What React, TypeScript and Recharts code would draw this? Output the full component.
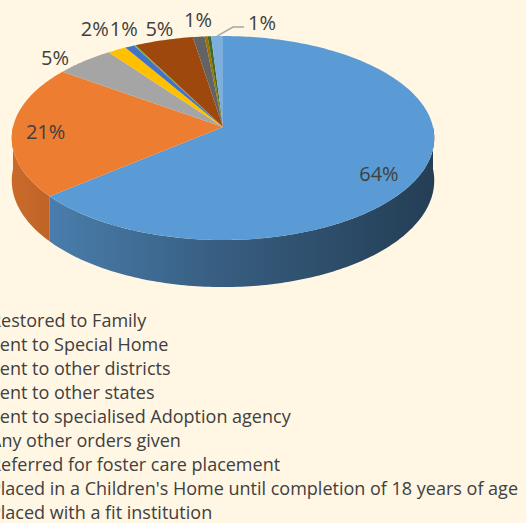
import React from 'react'
import { PieChart, Pie, Cell, Legend } from 'recharts'

// categories in legend order (the last four are cut off below the frame)
const categories = [
  'Restored to Family',
  'Sent to Special Home',
  'Sent to other districts',
  'Sent to other states',
  'Sent to specialised Adoption agency',
  'Any other orders given',
  'Referred for foster care placement',
  "Placed in a Children's Home until completion of 18 years of age",
  'Placed with a fit institution',
  'Sent to Observation Home',
  'Transferred to another CWC',
  'Repatriated to native country',
  'Others',
]

// share of cases (%)
const shares = [64, 21, 5, 1.6, 0.8, 0.15, 0, 5, 1, 0.25, 0, 0.3, 1]

const colors = [
  '#5B9BD5', '#ED7D31', '#A5A5A5', '#FFC000', '#4472C4', '#70AD47',
  '#255E91', '#9E480E', '#636363', '#997300', '#264478', '#43682B', '#7CAFDD',
]

const data = categories.map((name, i) => ({ name, value: shares[i] }))

// layout / look
const W = 526
const H = 523
const CX = 223
const CY = 127
const R = 210
const TILT = 0.48 // vertical squash of the top face
const PERSP = 0.108 // perspective: far half smaller, near half larger
const DEPTH = 42
const BG = '#FFF6E3'
const TEXT = '#404040'
const FONT = '"Open Sans", Lato, sans-serif'
const RAD = Math.PI / 180

// small hand offsets for the labels (Excel best-fit placement)
const labelNudge: Record<number, { dx: number; dy: number }> = {
  0: { dx: -2, dy: 1 },
  1: { dx: -9, dy: -8 },
  2: { dx: -15, dy: 10 },
  3: { dx: -11, dy: -5 },
  4: { dx: 4, dy: -1 },
  7: { dx: 2, dy: 7 },
  8: { dx: 2, dy: 3 },
}

const shade = (hex: string, k: number) => {
  const n = parseInt(hex.slice(1), 16)
  const c = [(n >> 16) & 255, (n >> 8) & 255, n & 255].map((v) => Math.round(v * k))
  return `rgb(${c[0]},${c[1]},${c[2]})`
}

// project a point of the (flat) pie onto the tilted, perspective view
const proj = (cx: number, cy: number, r: number, deg: number, f = 1, drop = 0) => {
  const u = f * Math.cos(deg * RAD)
  const v = f * Math.sin(deg * RAD)
  const s = 1 / (1 + PERSP * v)
  return { x: cx + r * u * s, y: cy - r * TILT * v * s + drop * s }
}

const arcPoints = (cx: number, cy: number, r: number, from: number, to: number, drop = 0) => {
  const steps = Math.max(2, Math.ceil(Math.abs(to - from)))
  const pts: string[] = []
  for (let i = 0; i <= steps; i++) {
    const p = proj(cx, cy, r, from + ((to - from) * i) / steps, 1, drop)
    pts.push(`${p.x.toFixed(2)},${p.y.toFixed(2)}`)
  }
  return pts
}

const renderSlice = (props: any) => {
  const { cx, cy, outerRadius, startAngle, endAngle, fill } = props
  const hi = Math.max(startAngle, endAngle)
  const lo = Math.min(startAngle, endAngle)
  if (hi - lo <= 0) return <g />
  const top = `M${cx},${cy} L${arcPoints(cx, cy, outerRadius, startAngle, endAngle).join(' L')} Z`

  // front wall: parts of the sector lying in the near half of the pie
  const walls: string[] = []
  for (let k = -2; k <= 1; k++) {
    const a = Math.max(lo, -180 + 360 * k)
    const b = Math.min(hi, 360 * k)
    if (b - a > 0.01) {
      const upper = arcPoints(cx, cy, outerRadius, b, a)
      const lower = arcPoints(cx, cy, outerRadius, a, b, DEPTH)
      walls.push(`M${upper.join(' L')} L${lower.join(' L')} Z`)
    }
  }
  const gid = `wall-${String(fill).replace('#', '')}`
  return (
    <g>
      <defs>
        <linearGradient
          id={gid}
          gradientUnits="userSpaceOnUse"
          x1={cx - outerRadius}
          y1={0}
          x2={cx + outerRadius}
          y2={0}
        >
          <stop offset="0" stopColor={shade(fill, 0.85)} />
          <stop offset="0.5" stopColor={shade(fill, 0.6)} />
          <stop offset="1" stopColor={shade(fill, 0.4)} />
        </linearGradient>
      </defs>
      {walls.map((d, i) => (
        <path key={i} d={d} fill={`url(#${gid})`} stroke="none" />
      ))}
      <path d={top} fill={fill} stroke="none" />
    </g>
  )
}

const renderLabel = (props: any) => {
  const { cx, cy, midAngle, outerRadius, percent, index } = props
  if (!percent || percent < 0.005) return null
  const txt = `${Math.round(percent * 100)}%`
  const cos = Math.cos(midAngle * RAD)
  const sin = Math.sin(midAngle * RAD)
  const style = { fontFamily: FONT, fontSize: 20, fill: TEXT }
  const n = labelNudge[index] || { dx: 0, dy: 0 }

  if (percent > 0.1) {
    const p = proj(cx, cy, outerRadius, midAngle, 0.8)
    return (
      <text x={p.x + n.dx} y={p.y + 10 + n.dy} textAnchor="middle" dominantBaseline="central" style={style}>
        {txt}
      </text>
    )
  }

  const edge = proj(cx, cy, outerRadius, midAngle)
  if (index === categories.length - 1) {
    // leader line for the last sliver
    const bend = { x: edge.x + 16, y: edge.y - 9 }
    const end = { x: bend.x + 11, y: bend.y }
    return (
      <g>
        <polyline
          points={`${edge.x},${edge.y} ${bend.x},${bend.y} ${end.x},${end.y}`}
          fill="none"
          stroke="#A6A6A6"
          strokeWidth={1.5}
        />
        <text x={end.x + 4} y={end.y - 5} textAnchor="start" dominantBaseline="central" style={style}>
          {txt}
        </text>
      </g>
    )
  }
  const x = edge.x + cos * 20 + n.dx
  const y = edge.y - sin * 20 + n.dy
  return (
    <text x={x} y={y} textAnchor="middle" dominantBaseline="central" style={style}>
      {txt}
    </text>
  )
}

const renderLegend = ({ payload }: any) => {
  const items = [...(payload || [])].sort(
    (a: any, b: any) => categories.indexOf(a.value) - categories.indexOf(b.value)
  )
  return (
    <ul style={{ margin: 0, padding: 0, listStyle: 'none' }}>
      {items.map((entry: any, i: number) => (
        <li
          key={`item-${i}`}
          style={{ display: 'flex', alignItems: 'center', height: 23.9, whiteSpace: 'nowrap' }}
        >
          <span style={{ width: 9, height: 9, background: entry.color, marginRight: 9, flex: 'none' }} />
          <span style={{ color: TEXT, fontFamily: FONT, fontSize: 18 }}>{entry.value}</span>
        </li>
      ))}
    </ul>
  )
}

export default function App() {
  return (
    <div
      style={{
        position: 'absolute',
        left: 0,
        top: 0,
        width: W,
        height: H,
        overflow: 'hidden',
        background: BG,
      }}
    >
      <PieChart width={W} height={H} margin={{ top: 0, right: 0, bottom: 0, left: 0 }}>
        <Pie
          data={data}
          dataKey="value"
          nameKey="name"
          cx={CX}
          cy={CY}
          outerRadius={R}
          startAngle={90}
          endAngle={-270}
          stroke="none"
          label={renderLabel}
          labelLine={false}
          shape={renderSlice}
          activeShape={renderSlice}
          inactiveShape={renderSlice}
          isAnimationActive={false}
        >
          {data.map((entry, index) => (
            <Cell key={`cell-${index}`} fill={colors[index]} />
          ))}
        </Pie>
        <Legend
          layout="horizontal"
          verticalAlign="bottom"
          align="left"
          content={renderLegend}
          wrapperStyle={{ top: 308.5, left: -28, bottom: 'auto', width: 700 }}
        />
      </PieChart>
    </div>
  )
}
